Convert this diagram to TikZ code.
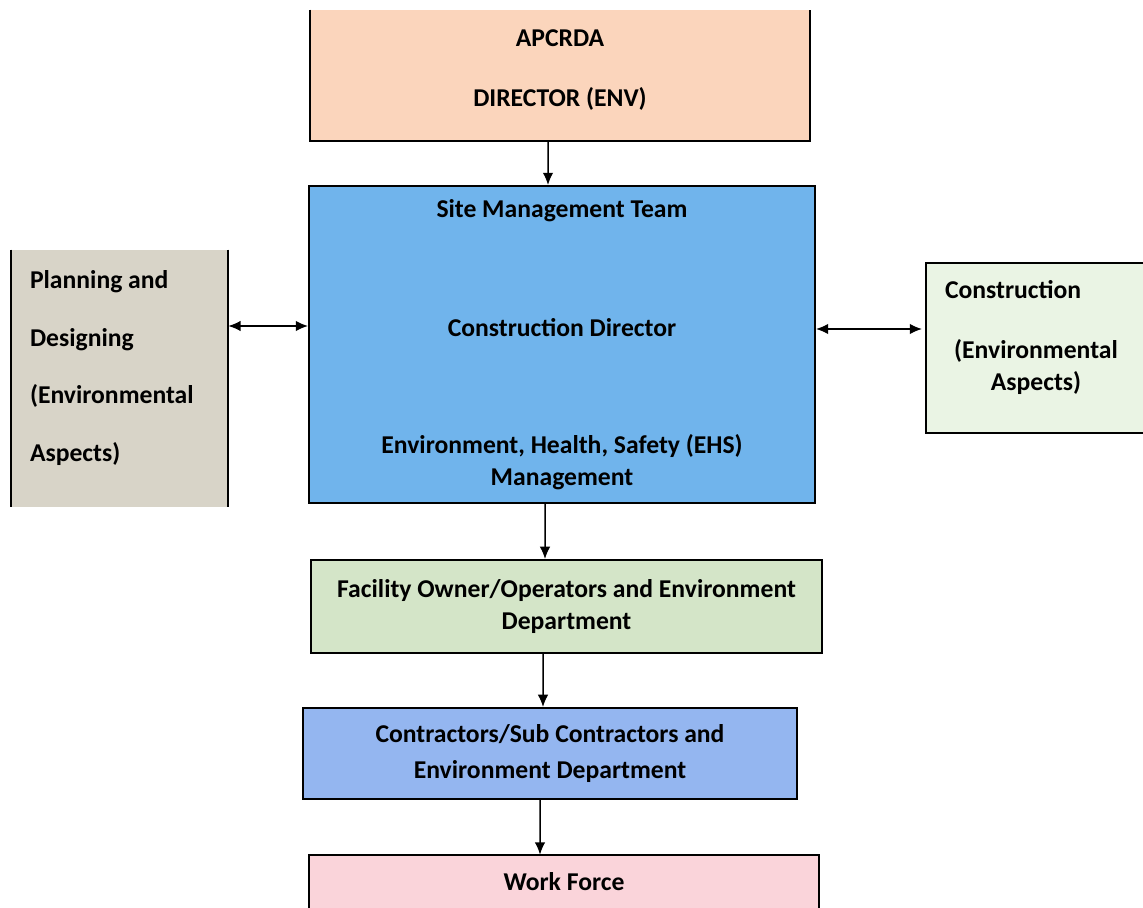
\documentclass[tikz,border=0pt]{standalone}
\usepackage{fontspec}
\setmainfont{Carlito}
\usetikzlibrary{arrows.meta}

\definecolor{peach}{RGB}{251,213,188}
\definecolor{siteblue}{RGB}{112,180,236}
\definecolor{planbeige}{RGB}{216,212,200}
\definecolor{constgreen}{RGB}{234,244,228}
\definecolor{facgreen}{RGB}{212,229,200}
\definecolor{conblue}{RGB}{148,182,240}
\definecolor{wfpink}{RGB}{250,212,218}

\begin{document}
\begin{tikzpicture}[x=0.02cm,y=-0.02cm]
      \tikzset{
        box/.style={draw, rectangle, line width=1.1pt, inner sep=0pt, align=flush center, font=\fontsize{14.6}{18}\selectfont\bfseries},
        open/.style={rectangle, inner sep=0pt, align=flush center, font=\fontsize{14.6}{18}\selectfont\bfseries},
        edge/.style={draw, line width=1.1pt},
        line/.style={draw, line width=0.85pt, -{Latex[length=7pt,width=6pt]}},
        dline/.style={draw, line width=0.85pt, {Latex[length=7pt,width=6pt]}-{Latex[length=7pt,width=6pt]}},
      }
      \useasboundingbox (0,0) rectangle (1143,908);
      \clip (0,0) rectangle (1143,908);

      \node [open, fill=peach, minimum width=10cm, minimum height=2.62cm] (apcrda) at (560,75.5)
        {APCRDA\\[0.55cm]DIRECTOR (ENV)\\[-0.335cm]\mbox{}};
      \node [box, fill=siteblue, minimum width=10.12cm, minimum height=6.34cm] (site) at (562,344.5)
        {Site Management Team\\[1.745cm]Construction Director\\[1.72cm]Environment, Health, Safety (EHS)\\Management};
      \node [open, fill=planbeige, minimum width=4.34cm, minimum height=5.14cm, align=flush left, text width=3.58cm] (plan) at (119.5,378.5)
        {Planning and\\[0.525cm]Designing\\[0.525cm](Environmental\\[0.525cm]Aspects)\\[-0.135cm]\mbox{}};
      \node [box, fill=constgreen, minimum width=4.4cm, minimum height=3.4cm, text width=3.64cm] (const) at (1036,348)
        {Construction\hfill\null\\[0.565cm](Environmental\\Aspects)\\[-0.135cm]\mbox{}};
      \node [box, fill=facgreen, minimum width=10.22cm, minimum height=1.86cm] (fac) at (566.5,606.5)
        {Facility Owner/Operators and Environment\\Department};
      \node [box, fill=conblue, minimum width=9.88cm, minimum height=1.82cm] (con) at (550,753.5)
        {Contractors/Sub Contractors and\\[0.085cm]Environment Department};
      \node [open, fill=wfpink, minimum width=10.2cm, minimum height=1.06cm] (wf) at (564,881.5) {Work Force};

      % borders of the cut boxes
      \path [edge] (apcrda.north west) -- (apcrda.south west) -- (apcrda.south east) -- (apcrda.north east);
      \path [edge] (plan.north west) -- (plan.south west) (plan.north east) -- (plan.south east);
      \path [edge] (wf.south west) -- (wf.north west) -- (wf.north east) -- (wf.south east);

      \coordinate (lrow) at (0,326);
      \coordinate (rrow) at (0,329);

      \path [line] ([xshift=-0.24cm]apcrda.south) -- ([xshift=-0.28cm]site.north);
      \path [dline] (plan.east |- lrow) -- (site.west |- lrow);
      \path [dline] (site.east |- rrow) -- ([xshift=-0.06cm]const.west |- rrow);
      \path [line] ([xshift=-0.34cm]site.south) -- ([xshift=-0.43cm]fac.north);
      \path [line] ([xshift=-0.47cm]fac.south) -- ([xshift=-0.14cm]con.north);
      \path [line] ([xshift=-0.2cm]con.south) -- ([xshift=-0.48cm]wf.north);
\end{tikzpicture}
\end{document}
